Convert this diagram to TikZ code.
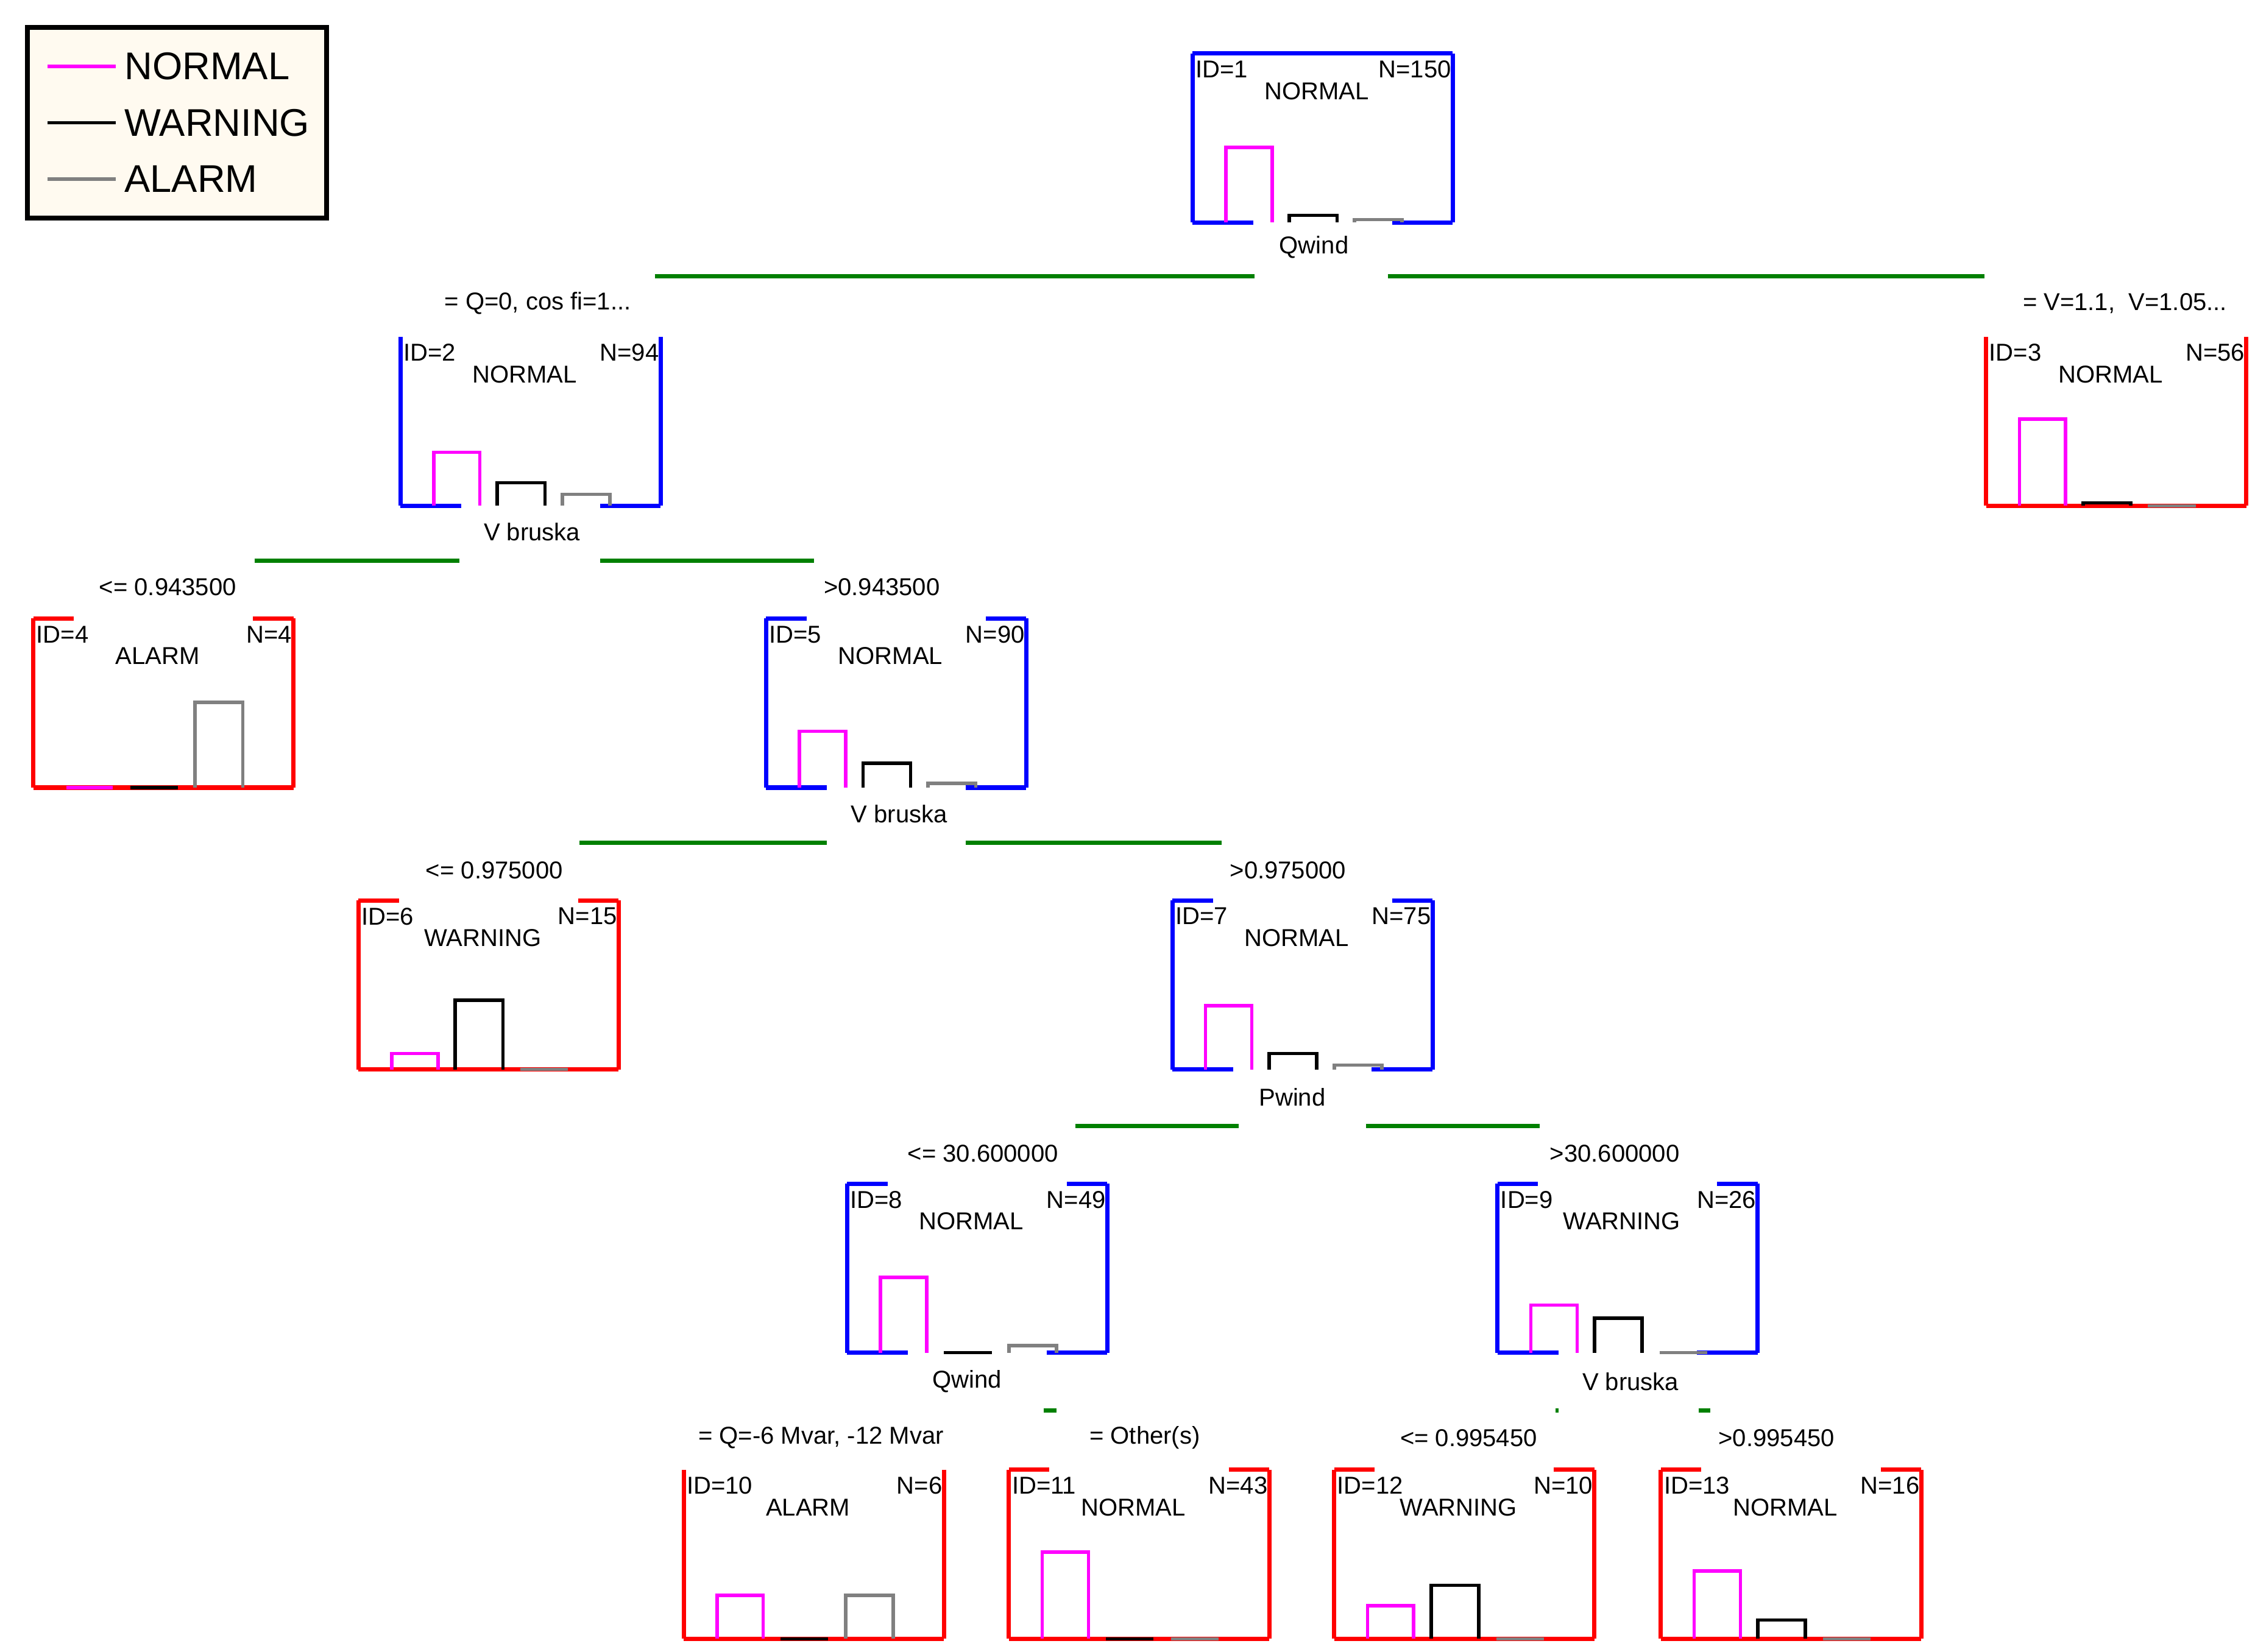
\documentclass[tikz,border=0pt]{standalone}
\usepackage{fontspec}
\setmainfont{Liberation Sans}
\usetikzlibrary{positioning}
\definecolor{pinkc}{RGB}{255,0,255}
\definecolor{grayc}{RGB}{128,128,128}
\definecolor{greenc}{RGB}{0,128,0}
\definecolor{legbg}{RGB}{255,250,240}
\tikzstyle{frame} = [line width=4.2pt]
\tikzstyle{bar} = [line width=3.4pt]
\tikzstyle{split} = [greenc, line width=4.2pt]
\tikzstyle{txt} = [font=\fontsize{24}{24}\selectfont, inner sep=0pt]
\tikzstyle{legtxt} = [font=\fontsize{38}{38}\selectfont, inner sep=0pt, anchor=west]
% box: name, x, y, colour, id, class, N, top style (0 none,1 stubs,2 full), internal (0/1)
\newcommand{\tbox}[9]{
  \begin{scope}[shift={(#2,#3)}]
    \coordinate (#1) at (90,0);
    \draw[frame,#4] (0,0) -- (0,117) (180,0) -- (180,117);
    \ifnum#8=1 \draw[frame,#4] (0,0) -- (28,0) (152,0) -- (180,0);\fi
    \ifnum#8=2 \draw[frame,#4] (0,0) -- (180,0);\fi
    \ifnum#9=1 \draw[frame,#4] (0,117) -- (42,117) (138,117) -- (180,117);
    \else \draw[frame,#4] (0,117) -- (180,117);\fi
    \node[txt,anchor=north west] (#1id) at (2,5) {ID=#5};
    \node[txt,anchor=north east] (#1n) at (179,5) {N=#7};
    \node[txt] (#1cl) at (86,26) {#6};
  \end{scope}}
% bars: x, y, pink height, black height, gray height
\newcommand{\tbars}[5]{
  \begin{scope}[shift={(#1,#2)}]
    \draw[bar,pinkc] (23,117) -- (23,117-#3) -- (55,117-#3) -- (55,117);
    \draw[bar,black] (67,117) -- (67,117-#4) -- (100,117-#4) -- (100,117);
    \draw[bar,grayc] (112,117) -- (112,117-#5) -- (145,117-#5) -- (145,117);
  \end{scope}}
\begin{document}
\begin{tikzpicture}[x=0.05cm,y=-0.05cm]
\useasboundingbox (0,0) rectangle (1560,1143);
% legend
\draw[line width=4.5pt,fill=legbg] (19,19) rectangle (226,151);
\draw[line width=3.4pt,pinkc] (33,46) -- (80,46);
\draw[line width=3.4pt,black] (33,85) -- (80,85);
\draw[line width=3.4pt,grayc] (33,124) -- (80,124);
\node[legtxt] (lnormal) at (86,46) {NORMAL};
\node[legtxt] (lwarning) at (86,85) {WARNING};
\node[legtxt] (lalarm) at (86,124) {ALARM};
% nodes
\tbox{n1}{825}{37}{blue}{1}{NORMAL}{150}{2}{1}
\tbars{825}{37}{52}{5}{2}
\tbox{n2}{277}{233}{blue}{2}{NORMAL}{94}{0}{1}
\tbars{277}{233}{37}{16}{8}
\tbox{n3}{1374}{233}{red}{3}{NORMAL}{56}{0}{0}
\tbars{1374}{233}{60}{2}{0}
\tbox{n4}{23}{428}{red}{4}{ALARM}{4}{1}{0}
\tbars{23}{428}{0}{0}{59}
\tbox{n5}{530}{428}{blue}{5}{NORMAL}{90}{1}{1}
\tbars{530}{428}{39}{17}{3}
\tbox{n6}{248}{623}{red}{6}{WARNING}{15}{1}{0}
\tbars{248}{623}{11}{48}{0}
\tbox{n7}{811}{623}{blue}{7}{NORMAL}{75}{1}{1}
\tbars{811}{623}{44}{11}{3}
\tbox{n8}{586}{819}{blue}{8}{NORMAL}{49}{1}{1}
\tbars{586}{819}{52}{0}{5}
\tbox{n9}{1036}{819}{blue}{9}{WARNING}{26}{1}{1}
\tbars{1036}{819}{33}{24}{0}
\tbox{n10}{473}{1017}{red}{10}{ALARM}{6}{0}{0}
\tbars{473}{1017}{30}{0}{30}
\tbox{n11}{698}{1017}{red}{11}{NORMAL}{43}{1}{0}
\tbars{698}{1017}{60}{0}{0}
\tbox{n12}{923}{1017}{red}{12}{WARNING}{10}{1}{0}
\tbars{923}{1017}{23}{37}{0}
\tbox{n13}{1149}{1017}{red}{13}{NORMAL}{16}{1}{0}
\tbars{1149}{1017}{47}{13}{0}
% split variables
\node[txt] (s1) at (909,171) {Qwind};
\node[txt] (s2) at (368,368) {V bruska};
\node[txt] (s5) at (622,563) {V bruska};
\node[txt] (s7) at (894,759) {Pwind};
\node[txt] (s8) at (669,956) {Qwind};
\node[txt] (s9) at (1128,956) {V bruska};
% split lines
\draw[split] (453,191) -- (868,191) (960,191) -- (1373,191);
\draw[split] (176,388) -- (318,388) (415,388) -- (563,388);
\draw[split] (401,583) -- (572,583) (668,583) -- (845,583);
\draw[split] (744,779) -- (857,779) (945,779) -- (1065,779);
\draw[split] (722,976) -- (731,976);
\draw[split] (1076,976) -- (1078,976) (1175,976) -- (1183,976);
% conditions
\node[txt] (c2) at (372,210) {= Q=0, cos fi=1...};
\node[txt] (c3) at (1470,210) {= V=1.1,\ \ V=1.05...};
\node[txt] (c4) at (116,406) {<= 0.943500};
\node[txt] (c5) at (610,406) {>0.943500};
\node[txt] (c6) at (342,602) {<= 0.975000};
\node[txt] (c7) at (891,602) {>0.975000};
\node[txt] (c8) at (680,798) {<= 30.600000};
\node[txt] (c9) at (1117,798) {>30.600000};
\node[txt] (c10) at (568,995) {= Q=-6 Mvar, -12 Mvar};
\node[txt] (c11) at (792,995) {= Other(s)};
\node[txt] (c12) at (1016,995) {<= 0.995450};
\node[txt] (c13) at (1229,995) {>0.995450};
\end{tikzpicture}
\end{document}
